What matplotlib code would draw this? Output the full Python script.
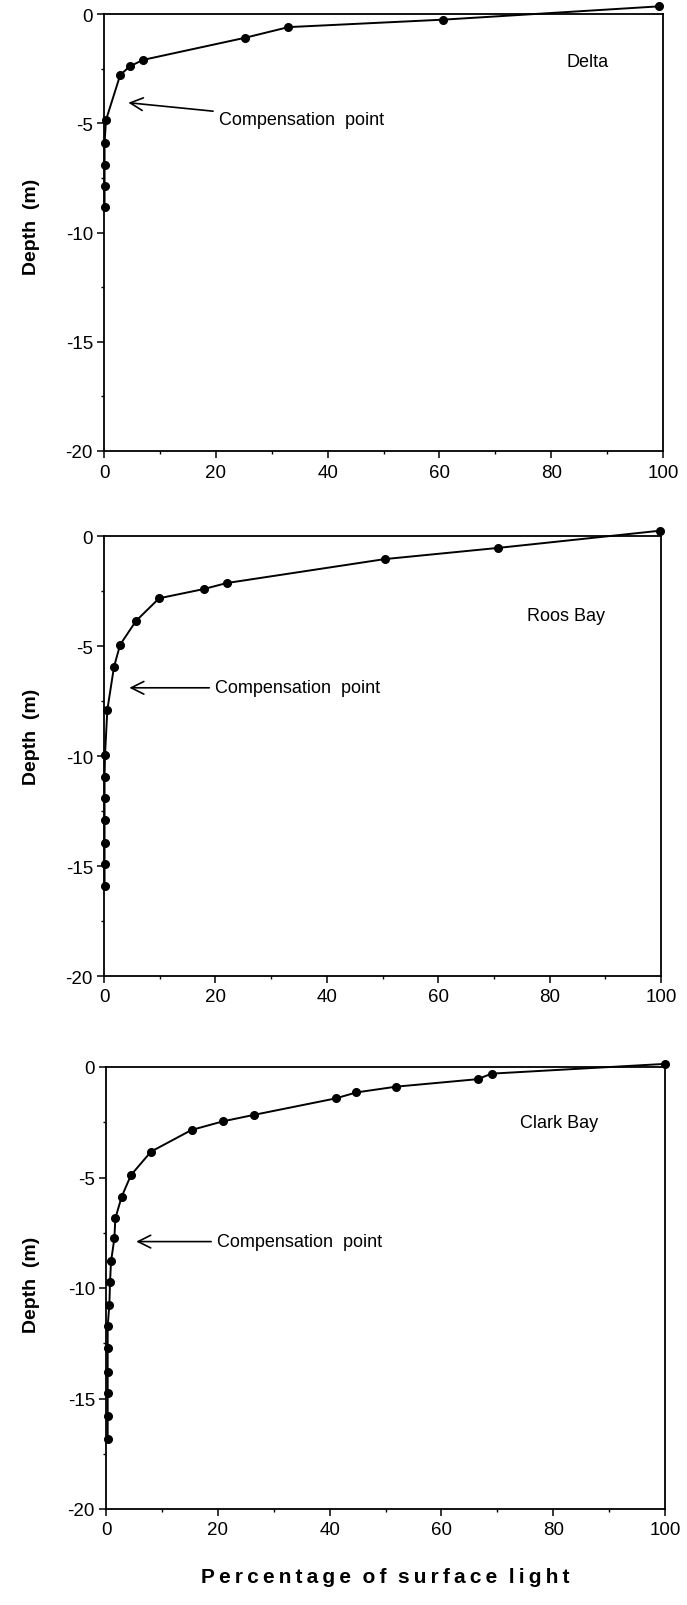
import matplotlib
matplotlib.use("Agg")
import matplotlib.pyplot as plt

plt.rcParams['font.family'] = ['Liberation Sans', 'DejaVu Sans']
plt.rcParams['axes.unicode_minus'] = False

# light (% of surface) and depth (m)
delta_light = [99.3, 60.6, 33.0, 25.2, 7.0, 4.65, 2.9, 0.36, 0.1, 0.1, 0.1, 0.1]
delta_depth = [0.35, -0.26, -0.6, -1.09, -2.1, -2.39, -2.79, -4.85, -5.9, -6.9, -7.85, -8.85]

roos_light = [99.8, 70.8, 50.4, 22.0, 17.95, 9.9, 5.75, 2.9, 1.8, 0.6, 0.18,
              0.1, 0.1, 0.1, 0.1, 0.1, 0.1]
roos_depth = [0.24, -0.54, -1.05, -2.14, -2.41, -2.83, -3.86, -4.94, -5.94, -7.9, -9.95,
              -10.97, -11.92, -12.9, -13.95, -14.9, -15.9]

clark_light = [100, 69, 66.5, 51.9, 44.8, 41.1, 26.4, 20.9, 15.3, 8.05, 4.47, 2.8,
               1.67, 1.5, 0.9, 0.72, 0.6, 0.3, 0.3, 0.3, 0.3, 0.3, 0.3]
clark_depth = [0.14, -0.3, -0.55, -0.89, -1.15, -1.42, -2.17, -2.46, -2.85, -3.83, -4.89, -5.87,
               -6.85, -7.75, -8.8, -9.74, -10.75, -11.73, -12.73, -13.79, -14.77, -15.8, -16.85]

names = ["Delta", "Roos Bay", "Clark Bay"]
name_pos = [(82.8, -2.16), (76.0, -3.6), (74.0, -2.5)]
# arrow head (x, y) and where the label starts
arrow_head = [(4.35, -4.06), (4.55, -6.9), (5.4, -7.9)]
arrow_text = [(20.5, -4.85), (19.9, -6.9), (19.8, -7.9)]

xticks = [0, 20, 40, 60, 80, 100]
yticks = [0, -5, -10, -15, -20]

fig = plt.figure(figsize=(6.87, 16.06), dpi=100)
boxes = [
    [104/687, 1 - 452/1606, 559/687, 437/1606],
    [104/687, 1 - 977/1606, 557/687, 440/1606],
    [106/687, 1 - 1510/1606, 559/687, 442/1606],
]
ylabel_y = [0.515, 0.545, 0.51]
series = [(delta_light, delta_depth), (roos_light, roos_depth), (clark_light, clark_depth)]

for i in range(3):
    ax = fig.add_axes(boxes[i])
    xs, ys = series[i]
    ax.plot(xs, ys, color='black', lw=1.4, marker='o', ms=5.5, clip_on=False, zorder=3)
    ax.set_xlim(0, 100)
    ax.set_ylim(-20, 0)
    ax.set_xticks(xticks)
    ax.set_xticks([10, 30, 50, 70, 90], minor=True)
    ax.set_yticks(yticks)
    ax.set_yticks([-2.5, -7.5, -12.5, -17.5], minor=True)
    ax.set_xticklabels([str(t) for t in xticks])
    ax.set_yticklabels([str(t) for t in yticks])
    ax.tick_params(which='major', direction='out', length=5, width=1.1, labelsize=13.5, pad=4)
    ax.tick_params(which='minor', direction='out', length=2.5, width=1)
    ax.tick_params(axis='y', pad=3)
    for s in ax.spines.values():
        s.set_linewidth(1.3)

    ax.text(name_pos[i][0], name_pos[i][1], names[i], fontsize=13, va='center', ha='left')
    ax.annotate("Compensation  point", xy=arrow_head[i], xytext=arrow_text[i],
                fontsize=13, va='center', ha='left',
                arrowprops=dict(arrowstyle='->,head_length=0.7,head_width=0.35',
                                color='black', lw=1.2, shrinkA=2, shrinkB=0))

    ax.set_ylabel("Depth  (m)", fontsize=14, fontweight='bold', labelpad=0)
    # label centre sits about 29 px from the figure's left edge
    left_px = boxes[i][0] * 687
    ax.yaxis.set_label_coords(-(left_px - 40) / (boxes[i][2] * 687), ylabel_y[i])

xl = "  ".join("\u2009".join(list(w)) for w in ["Percentage", "of", "surface", "light"])
fig.text((106 + 559 / 2) / 687, 1 - 1578 / 1606, xl, fontsize=15, fontweight='bold',
         ha='center', va='center')

fig.savefig("out.png", dpi=100)
